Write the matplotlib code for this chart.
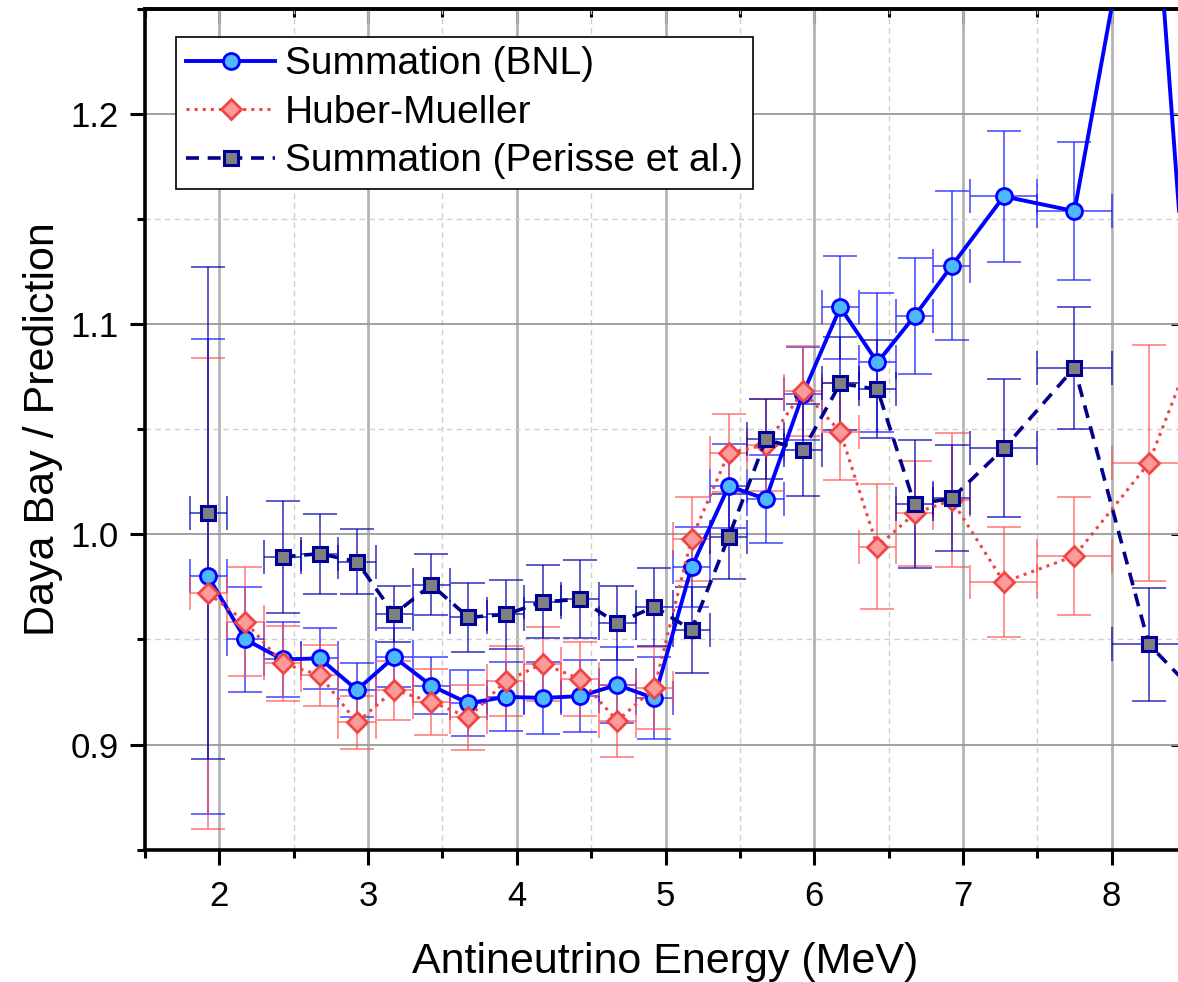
import numpy as np
import matplotlib
matplotlib.use("Agg")
import matplotlib.pyplot as plt
from matplotlib.ticker import MultipleLocator

plt.rcParams['font.family'] = ['Liberation Sans', 'DejaVu Sans']

# bin centres and half widths (MeV)
energy = [1.925, 2.175, 2.425, 2.675, 2.925, 3.175, 3.425, 3.675, 3.925, 4.175,
          4.425, 4.675, 4.925, 5.175, 5.425, 5.675, 5.925, 6.175, 6.425, 6.675,
          6.925, 7.275, 7.75, 8.25, 8.75]
half_width = [0.125] * 21 + [0.225, 0.25, 0.25, 0.25]

bnl = [0.980, 0.950, 0.9405, 0.941, 0.926, 0.9416, 0.928, 0.9196, 0.9227, 0.9222,
       0.923, 0.9284, 0.922, 0.9843, 1.023, 1.0168, 1.067, 1.108, 1.0818, 1.1039,
       1.1278, 1.1608, 1.1538, 1.348, 0.87]
bnl_err = [0.113, 0.025, 0.018, 0.0145, 0.013, 0.014, 0.0135, 0.0157, 0.0164, 0.017,
           0.017, 0.018, 0.0196, 0.019, 0.020, 0.021, 0.022, 0.0244, 0.033, 0.0274,
           0.0355, 0.0313, 0.033, 0.04, 0.05]

hm = [0.972, 0.9584, 0.9386, 0.933, 0.9105, 0.9259, 0.9204, 0.9129, 0.9302, 0.9384,
      0.9312, 0.9113, 0.9269, 0.9979, 1.0388, 1.0426, 1.0682, 1.0488, 0.9941, 1.010,
      1.0163, 0.9773, 0.9897, 1.0339, 1.125]
hm_err = [0.112, 0.026, 0.0177, 0.0145, 0.0128, 0.014, 0.0157, 0.0156, 0.0168, 0.0175,
          0.0174, 0.017, 0.0194, 0.020, 0.0186, 0.022, 0.0215, 0.023, 0.0298, 0.025,
          0.032, 0.0263, 0.028, 0.056, 0.06]

perisse = [1.010, np.nan, 0.9893, 0.9908, 0.987, 0.962, 0.976, 0.9605, 0.9619, 0.9679,
           0.9691, 0.9577, 0.9656, 0.9545, 0.9989, 1.0452, 1.0401, 1.0718, 1.069, 1.0143,
           1.0171, 1.0409, 1.0793, 0.9477, 0.911]
perisse_err = [0.117, np.nan, 0.0266, 0.019, 0.0155, 0.0134, 0.0145, 0.0163, 0.0165, 0.0174,
               0.0185, 0.0177, 0.0185, 0.0206, 0.0203, 0.019, 0.022, 0.022, 0.0233, 0.0305,
               0.0252, 0.0328, 0.029, 0.027, 0.03]

fig = plt.figure(figsize=(11.78, 9.82), dpi=100)
ax = fig.add_axes([0.1231, 0.1348, 0.8837, 0.8561])

# error bars first
ax.errorbar(energy, bnl, yerr=bnl_err, xerr=half_width, fmt='none', ecolor='#1a1aff',
            elinewidth=1.2, capsize=12, capthick=1.2, alpha=0.75, zorder=3)
ax.errorbar(energy, hm, yerr=hm_err, xerr=half_width, fmt='none', ecolor='#ff4d4d',
            elinewidth=1.2, capsize=12, capthick=1.2, alpha=0.7, zorder=3)
ax.errorbar(energy, perisse, yerr=perisse_err, xerr=half_width, fmt='none', ecolor='#0000b0',
            elinewidth=1.2, capsize=12, capthick=1.2, alpha=0.75, zorder=3)

ax.plot(energy, bnl, '-o', color='#0000ff', lw=2.8, ms=11.5, mfc='#4db8ff',
        mec='#0000ff', mew=2.0, label='Summation (BNL)', zorder=4)
ax.plot(energy, hm, ':D', color='#f04545', lw=2.2, ms=10, mfc='#ff9a9a',
        mec='#f04545', mew=2.0, label='Huber-Mueller', zorder=5)
ax.plot(energy, perisse, '--s', color='#00008b', lw=2.6, ms=9.5, mfc='#808080',
        mec='#000099', mew=2.2, dashes=(3.6, 2.4), label='Summation (Perisse et al.)', zorder=6)

ax.set_xlim(1.5, 8.5)
ax.set_ylim(0.85, 1.25)
ax.xaxis.set_major_locator(MultipleLocator(1))
ax.xaxis.set_minor_locator(MultipleLocator(0.5))
ax.yaxis.set_major_locator(MultipleLocator(0.1))
ax.yaxis.set_minor_locator(MultipleLocator(0.05))
ax.yaxis.set_major_formatter(matplotlib.ticker.FormatStrFormatter('%.1f'))

ax.xaxis.grid(True, which='major', color='#b4b4b4', lw=2.0)
ax.yaxis.grid(True, which='major', color='#9a9a9a', lw=1.3)
ax.grid(True, which='minor', color='#cfcfcf', ls='--', lw=1.0, dashes=(4, 3))
ax.set_axisbelow(True)

for s in ax.spines.values():
    s.set_linewidth(2.6)
ax.tick_params(which='major', direction='out', length=11, width=2.2, labelsize=25, pad=11)
ax.tick_params(which='minor', direction='out', length=5.5, width=2.2)
ax.tick_params(axis='y', which='major', pad=8)

top = ax.secondary_xaxis('top')
top.xaxis.set_major_locator(MultipleLocator(1))
top.xaxis.set_minor_locator(MultipleLocator(0.5))
top.tick_params(which='major', direction='in', length=11, width=2.2, labeltop=False)
top.tick_params(which='minor', direction='in', length=5.5, width=2.2)
top.spines['top'].set_linewidth(2.6)
right = ax.secondary_yaxis('right')
right.yaxis.set_major_locator(MultipleLocator(0.1))
right.yaxis.set_minor_locator(MultipleLocator(0.05))
right.tick_params(which='major', direction='in', length=11, width=2.2, labelright=False)
right.tick_params(which='minor', direction='in', length=5.5, width=2.2)

ax.set_xlabel('Antineutrino Energy (MeV)', fontsize=31, labelpad=21)
ax.set_ylabel('Daya Bay / Prediction', fontsize=31, labelpad=5)

leg = ax.legend(loc='upper left', bbox_to_anchor=(0.03, 0.967), fontsize=28, numpoints=1,
                handlelength=2.3, handletextpad=0.25, labelspacing=0.32, borderpad=0.25,
                borderaxespad=0, fancybox=False, framealpha=1, edgecolor='black')
leg.get_frame().set_linewidth(1.2)

fig.savefig('out.png', dpi=100)
